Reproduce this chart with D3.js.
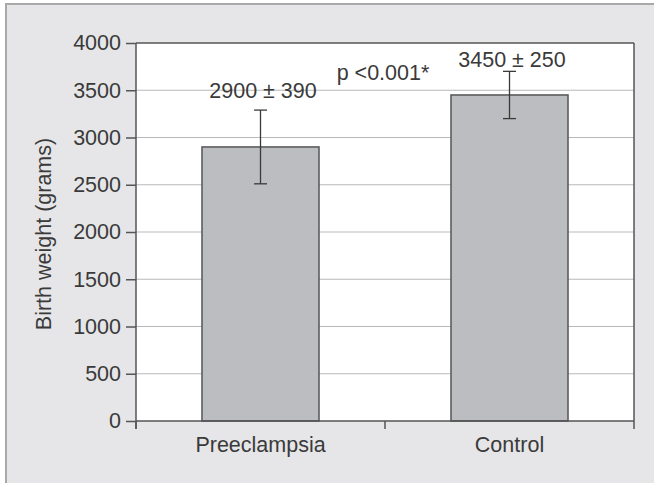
<!DOCTYPE html>
<html><head><meta charset="utf-8">
<script src="https://cdn.jsdelivr.net/npm/d3@7"></script>
<style>
html,body{margin:0;padding:0;background:#fff;}
svg text{font-family:"Liberation Sans",Arial,Helvetica,sans-serif;fill:#3a3a3a;}
</style></head>
<body><svg id="c" width="654" height="483"></svg>
<script>
const categories = ["Preeclampsia", "Control"];
const means = [2900, 3450];
const sds = [390, 250];
const valueLabels = ["2900 \u00b1 390", "3450 \u00b1 250"];
const yTicks = [0, 500, 1000, 1500, 2000, 2500, 3000, 3500, 4000];
const yTitle = "Birth weight (grams)";
const pLabel = "p <0.001*";
const pLabelValue = 3610;

const FS = 21.5;
const svg = d3.select("#c");
const W = 654, H = 483;
const L = 136, R = 634, T = 43, B = 421;

// outer frame
svg.append("rect").attr("x", 6).attr("y", 4).attr("width", W).attr("height", H)
  .attr("fill", "#e6e6e8").attr("stroke", "#a9a9a9").attr("stroke-width", 2);

const y = d3.scaleLinear().domain([0, 4000]).range([B, T]);
const x = d3.scaleBand().domain(categories).range([L, R]).padding(0);

// plot area
svg.append("rect").attr("x", L).attr("y", T).attr("width", R - L).attr("height", B - T).attr("fill", "#fff");

// gridlines
svg.append("g").selectAll("line").data(yTicks.filter(d => d > 0 && d < 4000)).join("line")
  .attr("x1", L).attr("x2", R).attr("y1", d => y(d)).attr("y2", d => y(d))
  .attr("stroke", "#b9b9b9").attr("stroke-width", 1.2);

// top & right frame lines
svg.append("line").attr("x1", L).attr("x2", R).attr("y1", y(4000)).attr("y2", y(4000))
  .attr("stroke", "#555").attr("stroke-width", 1.5);
svg.append("line").attr("x1", R).attr("x2", R).attr("y1", T).attr("y2", B)
  .attr("stroke", "#555").attr("stroke-width", 1.5);

// bars
const barW = x.bandwidth() * 0.47;
const cx = d => x(d) + x.bandwidth() / 2;
svg.append("g").selectAll("rect").data(categories).join("rect")
  .attr("x", d => cx(d) - barW / 2).attr("width", barW)
  .attr("y", (d, i) => y(means[i])).attr("height", (d, i) => y(0) - y(means[i]))
  .attr("fill", "#bcbdc0").attr("stroke", "#555").attr("stroke-width", 1.5);

// error bars
const capW = 13;
const eg = svg.append("g").attr("stroke", "#3a3a3a").attr("stroke-width", 1.3);
categories.forEach((c, i) => {
  const x0 = cx(c);
  eg.append("line").attr("x1", x0).attr("x2", x0).attr("y1", y(means[i] + sds[i])).attr("y2", y(means[i] - sds[i]));
  eg.append("line").attr("x1", x0 - capW / 2).attr("x2", x0 + capW / 2).attr("y1", y(means[i] + sds[i])).attr("y2", y(means[i] + sds[i]));
  eg.append("line").attr("x1", x0 - capW / 2).attr("x2", x0 + capW / 2).attr("y1", y(means[i] - sds[i])).attr("y2", y(means[i] - sds[i]));
});

// y axis
const yAxis = d3.axisLeft(y).tickValues(yTicks).tickSize(10).tickPadding(5).tickFormat(d3.format("d"));
const ya = svg.append("g").attr("transform", `translate(${L},0)`).call(yAxis);
ya.select(".domain").attr("stroke", "#555").attr("stroke-width", 1.5).attr("d", `M0,${T}V${B + 8}`);
ya.selectAll(".tick line").attr("stroke", "#555").attr("stroke-width", 1.5);
ya.selectAll(".tick text").attr("font-size", FS).attr("fill", "#3a3a3a")
  .style("font-family", '"Liberation Sans",Arial,sans-serif');

// x axis
const xg = svg.append("g");
xg.append("line").attr("x1", L).attr("x2", R).attr("y1", B).attr("y2", B).attr("stroke", "#555").attr("stroke-width", 1.5);
const edges = categories.map(c => x(c)).concat([x.range()[1]]);
xg.selectAll("line.t").data(edges).join("line").attr("class", "t")
  .attr("x1", d => d).attr("x2", d => d).attr("y1", B).attr("y2", B + 8)
  .attr("stroke", "#555").attr("stroke-width", 1.5);
xg.selectAll("text").data(categories).join("text")
  .attr("x", d => cx(d)).attr("y", 452).attr("text-anchor", "middle")
  .attr("font-size", FS).text(d => d);

// value labels
const labelOffsets = [12, 4];
svg.append("g").selectAll("text").data(categories).join("text")
  .attr("x", (d, i) => cx(d) + 2.5).attr("y", (d, i) => y(means[i] + sds[i]) - labelOffsets[i])
  .attr("text-anchor", "middle").attr("font-size", FS).text((d, i) => valueLabels[i]);

// p label
svg.append("text").attr("x", x(categories[1]) - 2).attr("y", y(pLabelValue))
  .attr("text-anchor", "middle").attr("font-size", FS).text(pLabel);

// y title
svg.append("text").attr("transform", `translate(51,${(T + B) / 2 + 2}) rotate(-90)`)
  .attr("text-anchor", "middle").attr("font-size", FS).text(yTitle);
</script></body></html>
